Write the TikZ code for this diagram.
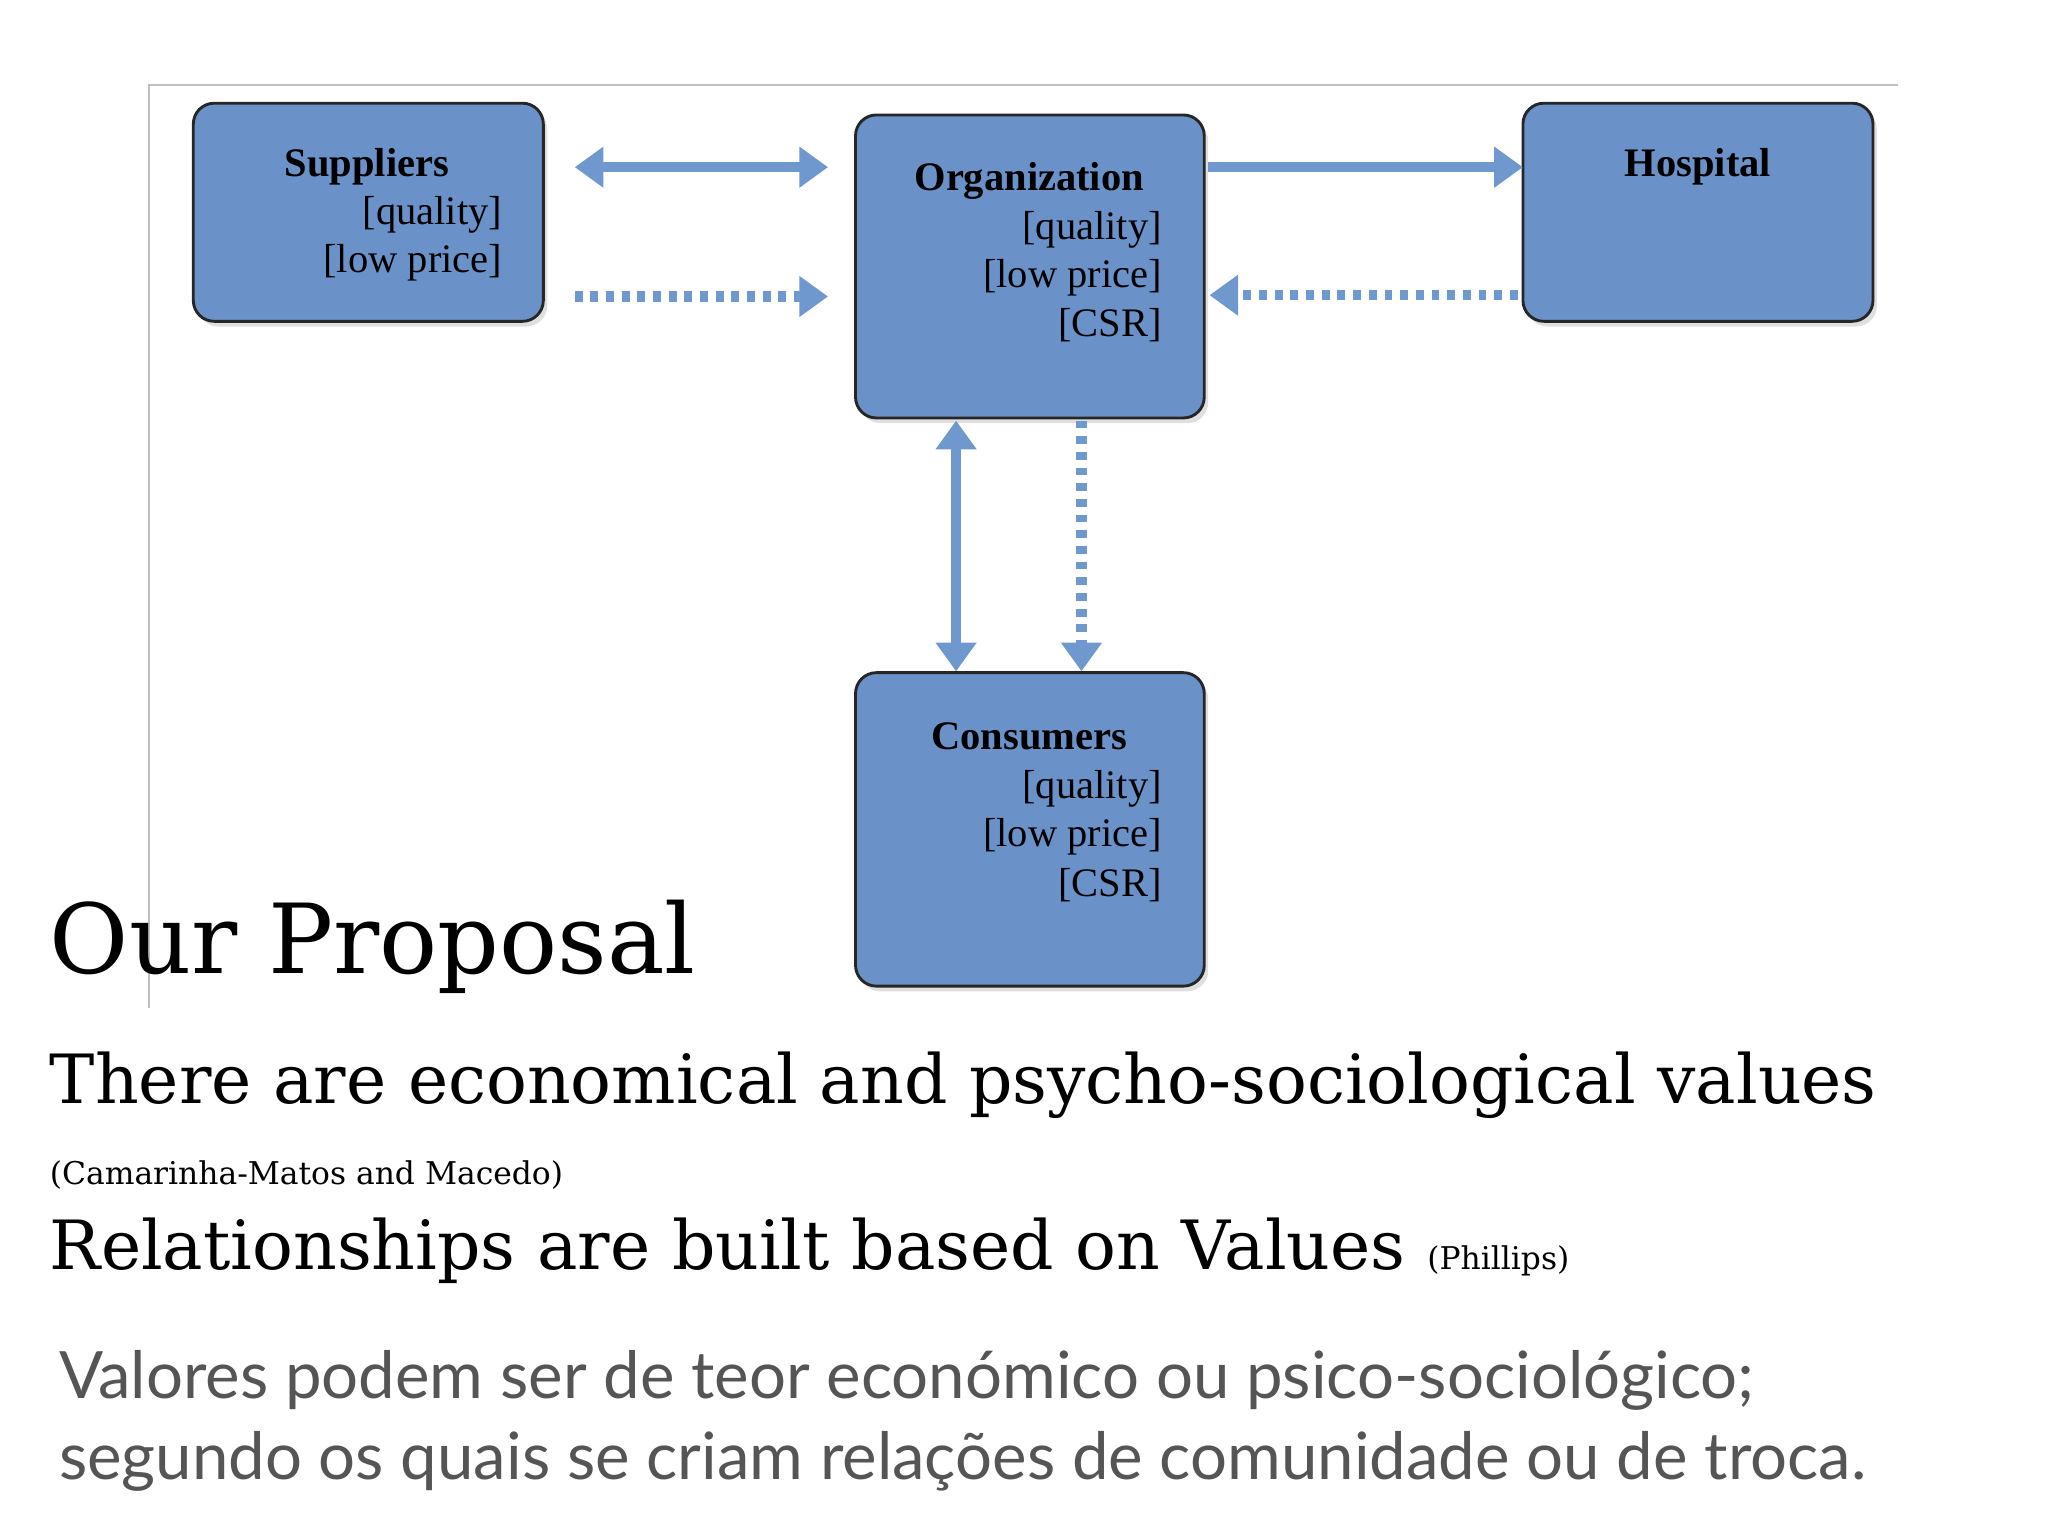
\documentclass[tikz,border=0pt]{standalone}
\usepackage{fontspec}
\setmainfont{Liberation Serif}
\newfontfamily\bodyserif{DejaVu Serif}
\newfontfamily\bodysans{Lato}
\usetikzlibrary{arrows.meta,shadows}
\definecolor{boxblue}{RGB}{106,146,200}
\definecolor{arrblue}{RGB}{111,152,207}
\definecolor{gtext}{RGB}{85,85,85}
\tikzset{
 boxnode/.style={draw=black!85,line width=2.2pt,fill=boxblue,rounded corners=16pt,inner sep=0pt,drop shadow={shadow xshift=3pt,shadow yshift=-4pt,opacity=0.25}},
 arr/.style={arrblue,line width=8pt},
 dotarr/.style={arrblue,line width=8pt,dash pattern=on 6pt off 6pt},
 tip/.style={-{Triangle[length=22pt,width=30pt]}},
 dtip/.style={{Triangle[length=22pt,width=30pt]}-{Triangle[length=22pt,width=30pt]}},
 ttl/.style={font=\fontsize{31}{36}\selectfont\bfseries,anchor=base},
 itm/.style={font=\fontsize{31}{36}\selectfont,anchor=base east},
}
\begin{document}
\begin{tikzpicture}[x=1pt,y=-1pt]
\useasboundingbox (0,0) rectangle (1568,1176);
\draw[black!25,line width=1pt] (114,772) -- (114,65) -- (1453,65);
\node[boxnode,minimum width=268pt,minimum height=167pt] (sup) at (282,162.5) {};
\node[boxnode,minimum width=267pt,minimum height=232pt] (org) at (788.5,204) {};
\node[boxnode,minimum width=268pt,minimum height=167pt] (hos) at (1300,162.5) {};
\node[boxnode,minimum width=267pt,minimum height=240pt] (con) at (788.5,635) {};
\node[ttl] (t1) at (281,135) {Suppliers};
\node[itm] (t2) at (388,172) {[quality]};
\node[itm] (t3) at (388,209) {[low price]};
\node[ttl] (t4) at (788,146) {Organization};
\node[itm] (t5) at (893,183) {[quality]};
\node[itm] (t6) at (893,220) {[low price]};
\node[itm] (t7) at (893,258) {[CSR]};
\node[ttl] (t8) at (1300,135) {Hospital};
\node[ttl] (t9) at (788,574) {Consumers};
\node[itm] (t10) at (893,611) {[quality]};
\node[itm] (t11) at (893,648) {[low price]};
\node[itm] (t12) at (893,686) {[CSR]};
\coordinate (a1) at (440,128); \coordinate (a2) at (634,128);
\coordinate (b1) at (440,227); \coordinate (b2) at (634,227);
\coordinate (c1) at (925,128); \coordinate (c2) at (1166,128);
\coordinate (d1) at (1162,226); \coordinate (d2) at (926,226);
\coordinate (e1) at (732,322); \coordinate (e2) at (732,514);
\coordinate (f1) at (828,322); \coordinate (f2) at (828,514);
\draw[arr,dtip] (a1) -- (a2);
\draw[dotarr,tip] (b1) -- (b2);
\draw[arr,tip] (c1) -- (c2);
\draw[dotarr,tip] (d1) -- (d2);
\draw[arr,dtip] (e1) -- (e2);
\draw[dotarr,tip] (f1) -- (f2);
\node[anchor=base west,inner sep=0pt,font=\bodyserif\fontsize{74}{80}\selectfont] (h) at (38,745) {Our Proposal};
\node[anchor=base west,inner sep=0pt,font=\bodyserif\fontsize{52}{60}\selectfont] (l1) at (38,845) {There are economical and psycho-sociological values};
\node[anchor=base west,inner sep=0pt,font=\bodyserif\fontsize{24}{28}\selectfont] (l2) at (38,907) {(Camarinha-Matos and Macedo)};
\node[anchor=base west,inner sep=0pt,font=\bodyserif\fontsize{52}{60}\selectfont] (l3) at (38,972) {Relationships are built based on Values {\fontsize{24}{28}\selectfont (Phillips)}};
\node[anchor=base west,inner sep=0pt,text=gtext,font=\bodysans\fontsize{50}{60}\selectfont] (p1) at (45,1071) {Valores podem ser de teor económico ou psico-sociológico;};
\node[anchor=base west,inner sep=0pt,text=gtext,font=\bodysans\fontsize{50}{60}\selectfont] (p2) at (45,1133) {segundo os quais se criam relações de comunidade ou de troca.};
\end{tikzpicture}
\end{document}
